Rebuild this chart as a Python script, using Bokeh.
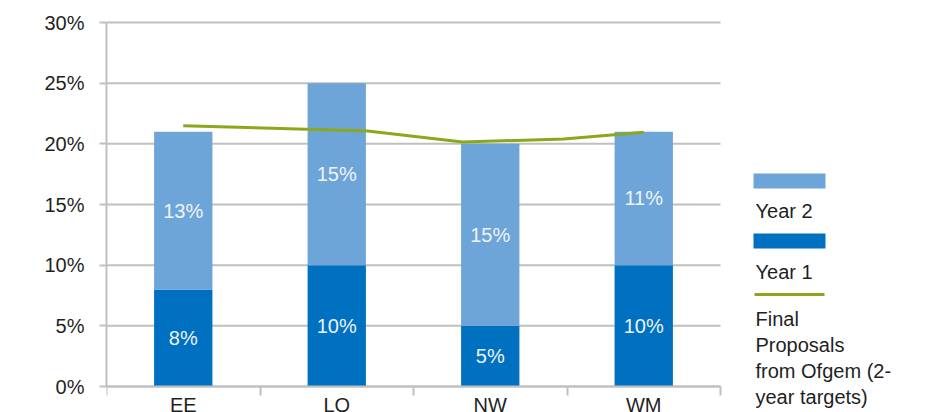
import numpy as np
from bokeh.plotting import figure
from bokeh.models import Range1d, FixedTicker, PrintfTickFormatter, ColumnDataSource
from bokeh.core.properties import value
from bokeh.embed import file_html
from bokeh.resources import INLINE

# ---- data ----
regions = ["EE", "LO", "NW", "WM"]
year1 = [8, 10, 5, 10]
year2 = [13, 15, 15, 11]
proposal_pos = [0.5, 1.7, 2.32, 2.98, 3.5]          # position along the category axis
proposal_vals = [21.5, 21.05, 20.15, 20.4, 20.95]   # % (2-year targets)
y_ticks = [0, 5, 10, 15, 20, 25, 30]
legend_labels = ["Year 2", "Year 1", "Final Proposals from Ofgem (2-year targets)"]
legend_wrapped = ["Final", "Proposals", "from Ofgem (2-", "year targets)"]

FONT = value("Liberation Sans")
TXT = "#1F1F1F"
C_Y1 = "#0070C0"
C_Y2 = "#6EA5D9"
C_LINE = "#8BA81C"
GRID = "#C0C0C0"
FS = "20px"

# ---- page geometry (pixels) ----
W, H = 928, 412
LEFT, TOP = 106, 18          # frame left / top edge
X_END_PX = 720               # right end of the category area
Y0_PX, YMAX_PX = 386, 22     # pixel rows of 0% and 30%
YMAX = y_ticks[-1]

n = len(regions)
cat_px = (X_END_PX - LEFT) / n
ppu = (Y0_PX - YMAX_PX) / YMAX

xc = np.arange(n) + 0.5
y1 = np.array(year1, dtype=float)
y2 = np.array(year2, dtype=float)

src = ColumnDataSource(dict(
    x=xc, y1=y1, top=y1 + y2,
    mid1=y1 / 2, mid2=y1 + y2 / 2,
    l1=[f"{v}%" for v in year1], l2=[f"{v}%" for v in year2],
))

p = figure(width=W, height=H,
           x_range=Range1d(0, (W - LEFT) / cat_px),
           y_range=Range1d(-(H - Y0_PX) / ppu, YMAX + (YMAX_PX - TOP) / ppu),
           output_backend="svg", toolbar_location=None,
           min_border_left=LEFT, min_border_right=0, min_border_top=TOP, min_border_bottom=0)
p.outline_line_color = None
p.extra_x_ranges = {"px": Range1d(LEFT, W)}
p.extra_y_ranges = {"px": Range1d(H, TOP)}

# horizontal gridlines over the category area only
p.segment(x0=[0] * len(y_ticks), x1=[n] * len(y_ticks), y0=y_ticks, y1=y_ticks,
          line_color=GRID, line_width=2)

p.vbar(x="x", bottom=0, top="y1", width=0.38, fill_color=C_Y1, line_color=None, source=src)
p.vbar(x="x", bottom="y1", top="top", width=0.38, fill_color=C_Y2, line_color=None, source=src)
p.line(proposal_pos, proposal_vals, line_color=C_LINE, line_width=3)

for col_y, col_t in (("mid1", "l1"), ("mid2", "l2")):
    p.text(x="x", y=col_y, text=col_t, source=src, text_align="center", text_baseline="middle",
           text_font=FONT, text_font_size=FS, text_color="#EEF3F9")

# x axis at 0%: labels at category centres, tick marks at category boundaries
xa = p.xaxis[0]
xa.fixed_location = 0
xa.bounds = (0, n)
xa.ticker = FixedTicker(ticks=list(xc), minor_ticks=list(range(n + 1)))
xa.major_label_overrides = {float(v): r for v, r in zip(xc, regions)}
xa.major_tick_out = 0
xa.major_tick_in = 0
xa.minor_tick_out = 9
xa.minor_tick_in = 0
xa.minor_tick_line_color = GRID
xa.minor_tick_line_width = 2
xa.axis_line_color = GRID
xa.axis_line_width = 2
xa.major_label_standoff = -2
xa.major_label_text_font = "Liberation Sans"
xa.major_label_text_font_size = FS
xa.major_label_text_color = TXT

ya = p.yaxis[0]
ya.bounds = (0, YMAX)
ya.ticker = FixedTicker(ticks=y_ticks)
ya.formatter = PrintfTickFormatter(format="%d%%")
ya.major_tick_out = 7
ya.major_tick_in = 0
ya.minor_tick_out = 0
ya.minor_tick_in = 0
ya.major_tick_line_color = GRID
ya.major_tick_line_width = 2
ya.axis_line_color = GRID
ya.axis_line_width = 2
ya.major_label_standoff = 15
ya.major_label_text_font = "Liberation Sans"
ya.major_label_text_font_size = FS
ya.major_label_text_color = TXT

p.xgrid.visible = False
p.ygrid.visible = False

# ---- legend (page-pixel coordinates) ----
px = dict(x_range_name="px", y_range_name="px")
p.quad(left=[753], right=[825], top=[173], bottom=[188], fill_color=C_Y2, line_color=None, **px)
p.quad(left=[753], right=[825], top=[233], bottom=[248], fill_color=C_Y1, line_color=None, **px)
p.line(x=[754, 824], y=[294, 294], line_color=C_LINE, line_width=3, **px)

leg_text = [legend_labels[0], legend_labels[1]] + legend_wrapped
leg_base = [210, 271] + [318 + 26 * i for i in range(len(legend_wrapped))]
p.text(x=[755] * len(leg_text), y=leg_base, text=leg_text, text_font=FONT, text_font_size=FS,
       text_color=TXT, text_baseline="alphabetic", **px)

open("out.html", "w").write(file_html(p, INLINE))
